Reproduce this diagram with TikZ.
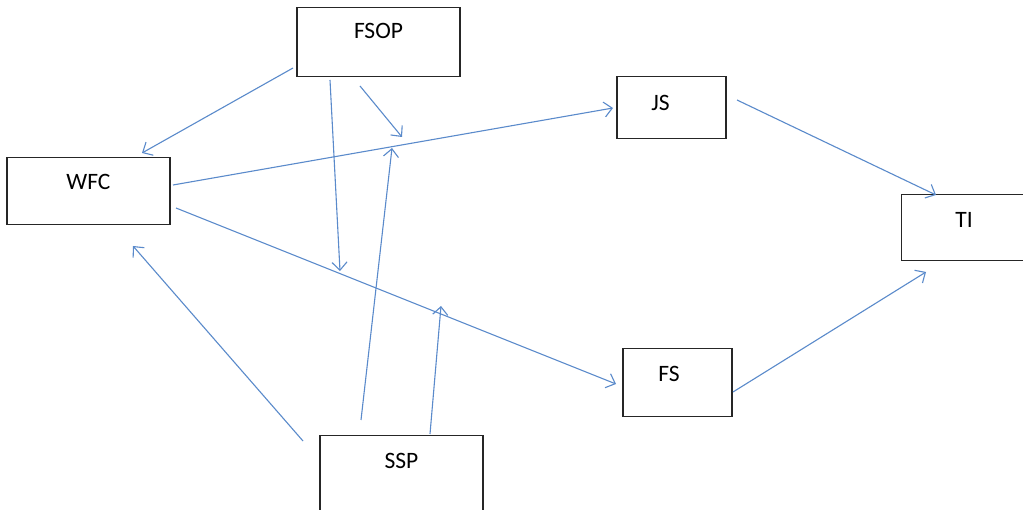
\documentclass[tikz,border=0pt]{standalone}
\usepackage{fontspec}
\setmainfont{Carlito}
\usetikzlibrary{arrows.meta}
\definecolor{linkblue}{HTML}{5A8ACB}
\newcommand{\padright}[1]{\rule{#1}{0pt}}
\tikzset{
  box/.style={draw=black!85, line width=1.3pt, fill=white, inner sep=0pt,
    font=\fontsize{23.5}{26}\selectfont},
  link/.style={draw=linkblue, line width=1.1pt,
    -{Straight Barb[length=8pt,width=15pt,line width=1.1pt]}}
}
\begin{document}
\begin{tikzpicture}[x=1pt,y=-1pt]
\clip (0,0) rectangle (1023,510);
\fill[white] (0,0) rectangle (1023,510);

% variable boxes (text placed near the top of each box)
\node[box, minimum width=163pt, text height=31pt, text depth=38pt] (FSOP) at (378.5,0) [anchor=north, yshift=-7pt] {FSOP};
\node[box, minimum width=163pt, text height=32pt, text depth=35pt, anchor=north] (WFC) at (88.5,157) {WFC};
\node[box, minimum width=163pt, text height=33pt, text depth=60pt, anchor=north] (SSP) at (401.5,435) {SSP};
\node[box, minimum width=109pt, text height=34pt, text depth=28pt, anchor=north] (JS) at (671.5,76) {JS\padright{22pt}};
\node[box, minimum width=130pt, text height=33pt, text depth=33pt, anchor=north west] (TI) at (901,194) {TI\padright{5pt}};
\node[box, minimum width=109pt, text height=33pt, text depth=35pt, anchor=north] (FS) at (677.5,348) {FS\padright{17pt}};

% connector end points
\coordinate (a1) at (293,68);   \coordinate (b1) at (142,153);
\coordinate (a2) at (360,86);   \coordinate (b2) at (402,137);
\coordinate (a3) at (330,80);   \coordinate (b3) at (340,271);
\coordinate (a4) at (173,185);  \coordinate (b4) at (613,108);
\coordinate (a5) at (737,100);  \coordinate (b5) at (936,195);
\coordinate (a6) at (176,208);  \coordinate (b6) at (616,384);
\coordinate (a7) at (733,392);  \coordinate (b7) at (926,272);
\coordinate (a8) at (303,441);  \coordinate (b8) at (133,246);
\coordinate (a9) at (361,420);  \coordinate (b9) at (392,148);
\coordinate (a10) at (430,434); \coordinate (b10) at (441,306);

\draw[link] (a1) -- (b1);
\draw[link] (a2) -- (b2);
\draw[link] (a3) -- (b3);
\draw[link] (a4) -- (b4);
\draw[link] (a5) -- (b5);
\draw[link] (a6) -- (b6);
\draw[link] (a7) -- (b7);
\draw[link] (a8) -- (b8);
\draw[link] (a9) -- (b9);
\draw[link] (a10) -- (b10);
\end{tikzpicture}
\end{document}
